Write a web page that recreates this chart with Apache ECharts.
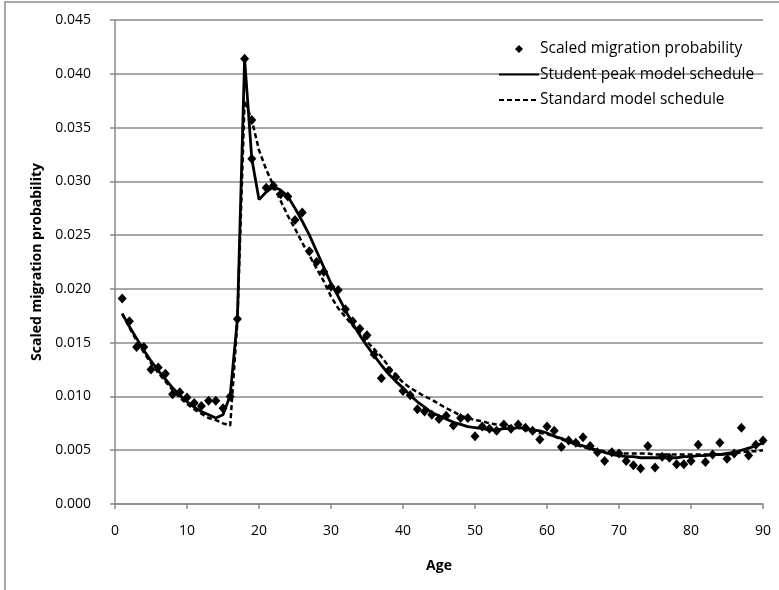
<!DOCTYPE html>
<html lang="en">
  <head>
    <meta charset="UTF-8" />
    <title>Scaled migration probability by age</title>
    <script src="https://cdn.jsdelivr.net/npm/echarts@6/dist/echarts.min.js"></script>
    <style>
      html, body { margin: 0; padding: 0; background: #fff; }
      #main { width: 779px; height: 590px; }
    </style>
  </head>
  <body>
    <div id="main"></div>

    <script>
      // observed points (age 19 carries two readings in the source figure)
      const pointAges = [
        1, 2, 3, 4, 5, 6, 7, 8, 9, 10, 11, 12, 13, 14, 15, 16, 17, 18, 19, 19,
        21, 22, 23, 24, 25, 26, 27, 28, 29, 30, 31, 32, 33, 34, 35, 36, 37, 38, 39, 40,
        41, 42, 43, 44, 45, 46, 47, 48, 49, 50, 51, 52, 53, 54, 55, 56, 57, 58, 59, 60,
        61, 62, 63, 64, 65, 66, 67, 68, 69, 70, 71, 72, 73, 74, 75, 76, 77, 78, 79, 80,
        81, 82, 83, 84, 85, 86, 87, 88, 89, 90,
      ];
      const pointValues = [
        0.0191, 0.0170, 0.0146, 0.0146, 0.0125, 0.0127, 0.0121, 0.0102, 0.0104, 0.0099,
        0.0094, 0.0091, 0.0096, 0.0096, 0.0089, 0.0100, 0.0172, 0.0414, 0.0357, 0.0321,
        0.0294, 0.0296, 0.0288, 0.0286, 0.0264, 0.0271, 0.0235, 0.0225, 0.0216, 0.0202,
        0.0199, 0.0181, 0.0170, 0.0163, 0.0157, 0.0139, 0.0117, 0.0124, 0.0118, 0.0105,
        0.0101, 0.0088, 0.0086, 0.0083, 0.0079, 0.0082, 0.0073, 0.0080, 0.0080, 0.0063,
        0.0072, 0.0070, 0.0068, 0.0074, 0.0070, 0.0074, 0.0071, 0.0068, 0.0060, 0.0072,
        0.0068, 0.0053, 0.0059, 0.0057, 0.0062, 0.0054, 0.0048, 0.0040, 0.0048, 0.0047,
        0.0040, 0.0036, 0.0033, 0.0054, 0.0034, 0.0044, 0.0043, 0.0037, 0.0037, 0.0040,
        0.0055, 0.0039, 0.0046, 0.0057, 0.0042, 0.0047, 0.0071, 0.0045, 0.0055, 0.0059,
      ];

      // model schedules, ages 1..90
      const modelAges = Array.from({ length: 90 }, (_, i) => i + 1);
      const studentPeak = [
        0.0177, 0.0165, 0.0154, 0.0143, 0.0133, 0.0124, 0.0116, 0.0108, 0.0101, 0.0095,
        0.0090, 0.0086, 0.0083, 0.0080, 0.0083, 0.0101, 0.0172, 0.0414, 0.0321, 0.0283,
        0.0290, 0.0295, 0.0292, 0.0286, 0.0275, 0.0263, 0.0250, 0.0235, 0.0220, 0.0205,
        0.0193, 0.0180, 0.0168, 0.0157, 0.0147, 0.0138, 0.0129, 0.0121, 0.0114, 0.0108,
        0.0101, 0.0095, 0.0090, 0.0085, 0.0082, 0.0079, 0.0076, 0.0074, 0.0072, 0.0071,
        0.0070, 0.0069, 0.0069, 0.0070, 0.0070, 0.0071, 0.0070, 0.0069, 0.0068, 0.0066,
        0.0063, 0.0061, 0.0058, 0.0056, 0.0054, 0.0052, 0.0050, 0.0048, 0.0046, 0.0045,
        0.0044, 0.0044, 0.0043, 0.0043, 0.0043, 0.0043, 0.0043, 0.0043, 0.0044, 0.0044,
        0.0045, 0.0045, 0.0046, 0.0046, 0.0047, 0.0048, 0.0050, 0.0052, 0.0054, 0.0057,
      ];
      const standard = [
        0.0177, 0.0164, 0.0152, 0.0141, 0.0131, 0.0122, 0.0114, 0.0106, 0.0099, 0.0093,
        0.0088, 0.0084, 0.0080, 0.0078, 0.0075, 0.0073, 0.0170, 0.0375, 0.0357, 0.0329,
        0.0311, 0.0296, 0.0282, 0.0268, 0.0256, 0.0243, 0.0231, 0.0219, 0.0207, 0.0193,
        0.0182, 0.0174, 0.0166, 0.0158, 0.0151, 0.0144, 0.0137, 0.0128, 0.0120, 0.0113,
        0.0108, 0.0104, 0.0100, 0.0097, 0.0093, 0.0089, 0.0086, 0.0082, 0.0080, 0.0078,
        0.0077, 0.0075, 0.0074, 0.0073, 0.0072, 0.0071, 0.0069, 0.0068, 0.0066, 0.0065,
        0.0063, 0.0060, 0.0058, 0.0055, 0.0053, 0.0051, 0.0050, 0.0049, 0.0048, 0.0047,
        0.0047, 0.0047, 0.0047, 0.0047, 0.0046, 0.0046, 0.0046, 0.0046, 0.0046, 0.0046,
        0.0046, 0.0046, 0.0046, 0.0046, 0.0046, 0.0047, 0.0048, 0.0049, 0.0049, 0.0050,
      ];

      const names = [
        'Scaled migration probability',
        'Student peak model schedule',
        'Standard model schedule',
      ];

      const font = '"Open Sans", sans-serif';
      const gridColor = '#8a8a8a';

      const zip = (xs, ys) => xs.map((x, i) => [x, ys[i]]);

      const options = {
        animation: false,
        textStyle: { fontFamily: font, color: '#000' },
        grid: { left: 115, right: 16, top: 20, bottom: 86, containLabel: false },
        graphic: [
          {
            type: 'rect',
            shape: { x: 5, y: 2, width: 820, height: 640 },
            style: { fill: 'none', stroke: gridColor, lineWidth: 1.5 },
            silent: true,
          },
        ],
        legend: {
          orient: 'vertical',
          left: 498,
          top: 41,
          padding: 0,
          itemWidth: 40,
          itemHeight: 8,
          itemGap: 9.5,
          textStyle: { fontFamily: font, fontSize: 15.5, color: '#000', padding: [0, 0, 0, -4] },
          data: [
            { name: names[0], icon: 'path://M0,-1L1,0L0,1L-1,0Z' },
            { name: names[1], itemStyle: { opacity: 0 } },
            { name: names[2], itemStyle: { opacity: 0 } },
          ],
        },
        xAxis: {
          type: 'value',
          min: 0,
          max: 90,
          interval: 10,
          name: 'Age',
          nameLocation: 'middle',
          nameGap: 55,
          nameTextStyle: { fontWeight: 'bold', fontSize: 14, fontFamily: font },
          axisLine: { lineStyle: { color: gridColor, width: 1.5 } },
          axisTick: { show: true, length: 5, lineStyle: { color: gridColor, width: 1.5 } },
          axisLabel: { margin: 20, fontSize: 14, color: '#000' },
          splitLine: { show: false },
        },
        yAxis: {
          type: 'value',
          min: 0,
          max: 0.045,
          interval: 0.005,
          name: 'Scaled migration probability',
          nameLocation: 'middle',
          nameGap: 70,
          nameTextStyle: { fontWeight: 'bold', fontSize: 14, fontFamily: font },
          axisLine: { show: true, lineStyle: { color: gridColor, width: 1.5 } },
          axisTick: { show: true, length: 5, lineStyle: { color: gridColor, width: 1.5 } },
          axisLabel: {
            margin: 24,
            fontSize: 14,
            color: '#000',
            formatter: (v) => v.toFixed(3),
          },
          splitLine: { show: true, lineStyle: { color: gridColor, width: 1.5 } },
        },
        series: [
          {
            name: names[1],
            type: 'line',
            data: zip(modelAges, studentPeak),
            symbol: 'none',
            lineStyle: { color: '#000', width: 2.8 },
            itemStyle: { color: '#000' },
            z: 3,
          },
          {
            name: names[2],
            type: 'line',
            data: zip(modelAges, standard),
            symbol: 'none',
            lineStyle: { color: '#000', width: 2.5, type: [5, 3] },
            itemStyle: { color: '#000' },
            z: 2,
          },
          {
            name: names[0],
            type: 'scatter',
            data: zip(pointAges, pointValues),
            symbol: 'diamond',
            symbolSize: [9, 10],
            itemStyle: { color: '#000', opacity: 1 },
            z: 4,
          },
        ],
      };

      var myChart = echarts.init(document.querySelector('#main'));
      myChart.setOption(options);

      window.onresize = function () {
        myChart.resize();
      };
    </script>
  </body>
</html>
